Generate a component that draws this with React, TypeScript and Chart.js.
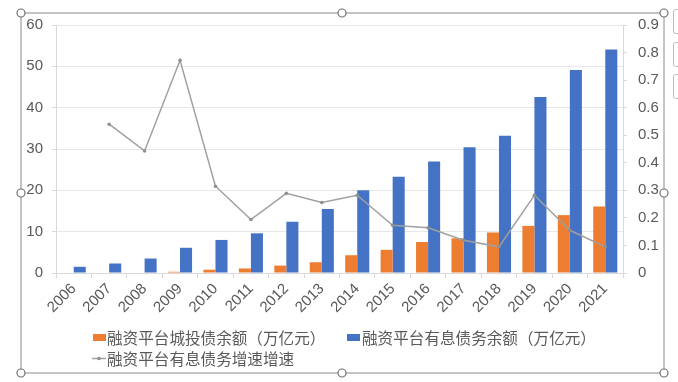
import React, { useEffect, useRef } from "react";
import { Chart, registerables } from "chart.js";

Chart.register(...registerables);

const years = ["2006","2007","2008","2009","2010","2011","2012","2013","2014","2015","2016","2017","2018","2019","2020","2021"];
const chengtouBond = [0, 0, 0, 0.3, 0.8, 1.1, 1.8, 2.6, 4.3, 5.6, 7.5, 8.4, 9.8, 11.4, 14.0, 16.1];
const interestDebt = [1.5, 2.3, 3.5, 6.1, 8.0, 9.6, 12.4, 15.5, 20.0, 23.3, 27.0, 30.4, 33.2, 42.6, 49.1, 54.1];
const debtGrowth = [null, 0.54, 0.443, 0.772, 0.315, 0.194, 0.289, 0.256, 0.282, 0.173, 0.164, 0.119, 0.095, 0.282, 0.155, 0.095];
const leftTicks = { min: 0, max: 60, step: 10 };
const rightTicks = { min: 0, max: 0.9, step: 0.1 };
const seriesNames = ["融资平台城投债余额（万亿元）", "融资平台有息债务余额（万亿元）", "融资平台有息债务增速增速"];

const ORANGE = "#ED7D31";
const BLUE = "#4472C4";
const GRAY = "#A0A0A0";
const TEXT = "#595959";
const GRID = "#D9D9D9";
const FONT = "'Liberation Sans', 'Noto Sans CJK SC', sans-serif";
const CJK = "'Noto Sans CJK SC', sans-serif";

export default function App() {
  const ref = useRef<HTMLCanvasElement | null>(null);

  useEffect(() => {
    if (!ref.current) return;
    const chart = new Chart(ref.current, {
      type: "bar",
      data: {
        labels: years,
        datasets: [
          {
            type: "line",
            label: seriesNames[2],
            data: debtGrowth as any,
            yAxisID: "y1",
            borderColor: GRAY,
            backgroundColor: GRAY,
            borderWidth: 1.5,
            pointRadius: 1.8,
            pointBorderWidth: 0,
            pointBackgroundColor: "#8f8f8f",
            tension: 0,
            order: 0,
          } as any,
          {
            label: seriesNames[0],
            data: chengtouBond,
            backgroundColor: ORANGE,
            yAxisID: "y",
            categoryPercentage: 0.68,
            barPercentage: 1.0,
            order: 1,
          },
          {
            label: seriesNames[1],
            data: interestDebt,
            backgroundColor: BLUE,
            yAxisID: "y",
            categoryPercentage: 0.68,
            barPercentage: 1.0,
            order: 1,
          },
        ],
      },
      options: {
        responsive: false,
        animation: false,
        layout: { padding: { top: 25, left: 0, right: 0, bottom: 49 } },
        plugins: { legend: { display: false }, tooltip: { enabled: false } },
        scales: {
          x: {
            grid: { display: true, drawOnChartArea: false, drawTicks: true, tickLength: 5, color: GRID, offset: true },
            border: { display: true, color: GRID },
            ticks: { color: TEXT, font: { family: FONT, size: 15 }, minRotation: 45, maxRotation: 45, padding: 2 },
            afterFit: (s: any) => { s.height = 60; },
          },
          y: {
            position: "left",
            min: leftTicks.min,
            max: leftTicks.max,
            ticks: { stepSize: leftTicks.step, color: TEXT, font: { family: FONT, size: 15 }, padding: 9 },
            grid: { color: "#E7E7E7", tickLength: 4, tickColor: GRID },
            border: { display: true, color: GRID },
            afterFit: (s: any) => { s.width = 56; },
          },
          y1: {
            position: "right",
            min: rightTicks.min,
            max: rightTicks.max,
            ticks: {
              stepSize: rightTicks.step,
              color: TEXT,
              font: { family: FONT, size: 15 },
              padding: 11,
              callback: (v: any) => (Math.abs(v) < 1e-9 ? "0" : Number(v).toFixed(1)),
            },
            grid: { drawOnChartArea: false, tickLength: 4, color: GRID },
            border: { display: true, color: GRID },
            afterFit: (s: any) => { s.width = 55; },
          },
        },
      },
    });
    return () => chart.destroy();
  }, []);

  const handles = [
    [21, 13], [342, 13], [664, 13],
    [21, 193], [664, 193],
    [21, 373], [342, 373], [664, 373],
  ];

  const legendText: React.CSSProperties = {
    position: "absolute",
    fontFamily: CJK,
    fontSize: 15.6,
    color: TEXT,
    height: 18,
    lineHeight: "18px",
    whiteSpace: "nowrap",
  };

  return (
    <div style={{ position: "absolute", left: 0, top: 0, width: 678, height: 382, background: "#fff", overflow: "hidden" }}>
      <canvas ref={ref} width={678} height={382} style={{ position: "absolute", left: 0, top: 0 }} />
      <div style={{ position: "absolute", left: 93, top: 334, width: 13, height: 7, background: ORANGE }} />
      <div style={{ ...legendText, left: 107, top: 328 }}>{seriesNames[0]}</div>
      <div style={{ position: "absolute", left: 347, top: 334, width: 13, height: 7, background: BLUE }} />
      <div style={{ ...legendText, left: 362, top: 328 }}>{seriesNames[1]}</div>
      <svg width={678} height={382} style={{ position: "absolute", left: 0, top: 0, pointerEvents: "none" }}>
        <line x1={92} y1={358.5} x2={106} y2={358.5} stroke={GRAY} strokeWidth={1.5} />
        <circle cx={99} cy={358.5} r={1.8} fill="#8f8f8f" />
        <rect x={21} y={13} width={643} height={360} fill="none" stroke="#8A8A8A" strokeWidth={1} />
        {handles.map(([x, y], i) => (
          <circle key={i} cx={x} cy={y} r={4} fill="#fff" stroke="#707070" strokeWidth={1.2} />
        ))}
        <rect x={673.5} y={9.5} width={12} height={24} rx={2} fill="#fff" stroke="#BDBDBD" />
        <rect x={673.5} y={42.5} width={12} height={24} rx={2} fill="#fff" stroke="#BDBDBD" />
        <rect x={673.5} y={74.5} width={12} height={24} rx={2} fill="#fff" stroke="#BDBDBD" />
      </svg>
      <div style={{ ...legendText, left: 107, top: 349 }}>{seriesNames[2]}</div>
    </div>
  );
}
